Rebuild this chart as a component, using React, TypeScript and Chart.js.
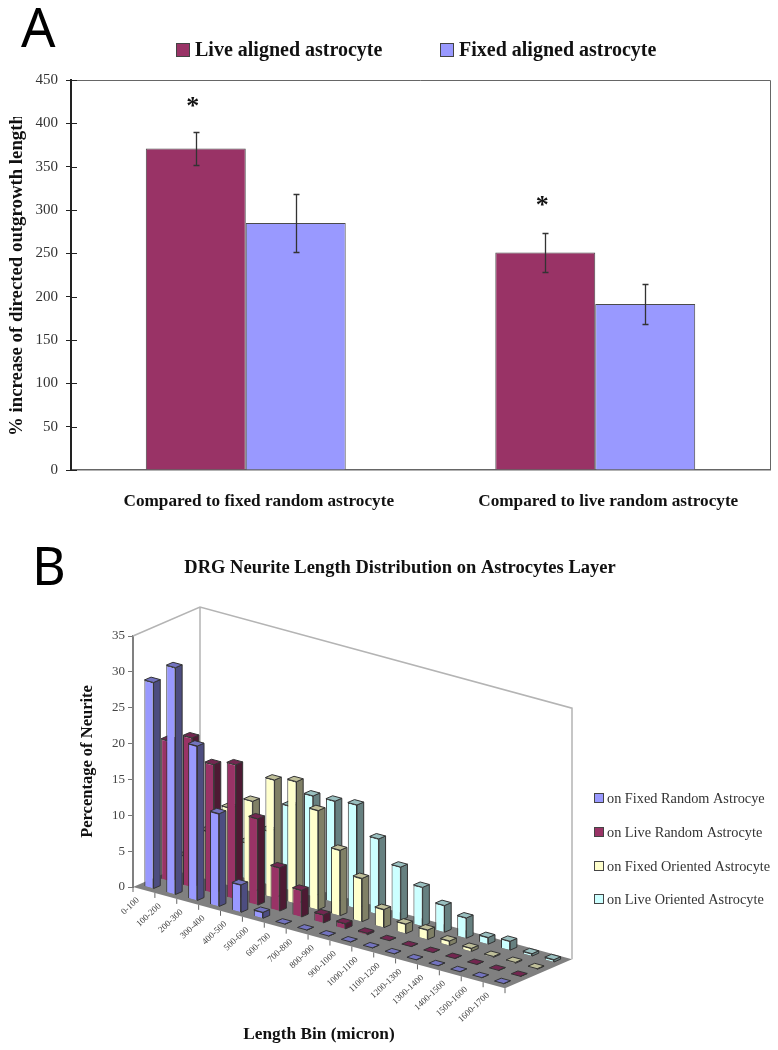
import React, { useEffect, useRef } from "react";
import { Chart, registerables } from "chart.js";

Chart.register(...registerables);

const SERIF = '"Liberation Serif", "Times New Roman", serif';

// Panel A
const groupLabels = ["Compared to fixed random astrocyte", "Compared to live random astrocyte"];
const liveAligned = [371, 251];
const fixedAligned = [285, 191.5];
const liveAlignedErr = [19, 22];
const fixedAlignedErr = [33.5, 23];
const starValues = [426, 311];

// Panel B
const lengthBins = [
  "0-100", "100-200", "200-300", "300-400", "400-500", "500-600", "600-700", "700-800", "800-900",
  "900-1000", "1000-1100", "1100-1200", "1200-1300", "1300-1400", "1400-1500", "1500-1600", "1600-1700",
];
const fixedRandom = [28.8, 31.7, 21.6, 13, 3.9, 0.9, 0.1, 0.1, 0.1, 0.1, 0.1, 0.1, 0.1, 0.1, 0.1, 0.1, 0.1];
const liveRandom = [19.6, 20.9, 18, 18.8, 12.1, 6.1, 3.8, 1.2, 0.8, 0.3, 0.1, 0.1, 0.1, 0.1, 0.1, 0.1, 0.1];
const fixedOriented = [2.5, 6.8, 10.9, 12.7, 16.5, 17.1, 13.9, 9.2, 6.1, 2.6, 1.4, 1.4, 0.7, 0.5, 0.2, 0.2, 0.15];
const liveOriented = [1.5, 3, 5, 7.5, 11.8, 14.1, 14.2, 14.5, 10.6, 7.5, 5.5, 3.8, 2.9, 1.0, 1.3, 0.4, 0.4];

const sideColors = ["#4d4d80", "#4d1a33", "#808066", "#668080"];
const topColors = ["#7373bf", "#732650", "#bfbf99", "#99bfbf"];

function drawLegend(ctx: any, items: any[], font: string, color: string, box: number, gap: number) {
  ctx.save();
  ctx.font = font;
  ctx.textBaseline = "middle";
  ctx.textAlign = "left";
  for (const it of items) {
    ctx.fillStyle = it.fill;
    ctx.fillRect(it.x, it.y - box / 2, box, box);
    ctx.strokeStyle = "#444";
    ctx.lineWidth = 1;
    ctx.strokeRect(it.x + 0.5, it.y - box / 2 + 0.5, box - 1, box - 1);
    ctx.fillStyle = color;
    ctx.fillText(it.label, it.x + box + gap, it.y + 1);
  }
  ctx.restore();
}

function panelLetter(ctx: any, text: string, x: number, y: number, size: number) {
  ctx.save();
  ctx.font = `${size}px "Noto Sans", sans-serif`;
  ctx.fillStyle = "#000";
  ctx.textAlign = "left";
  ctx.textBaseline = "alphabetic";
  ctx.fillText(text, x, y);
  ctx.restore();
}

const panelAPlugin = {
  id: "panelA",
  beforeDatasetsDraw(chart: any) {
    const { ctx, chartArea: a, scales } = chart;
    ctx.save();
    ctx.strokeStyle = "#666";
    ctx.lineWidth = 1;
    ctx.beginPath();
    ctx.moveTo(a.left, a.top + 0.5);
    ctx.lineTo(a.right + 0.5, a.top + 0.5);
    ctx.lineTo(a.right + 0.5, a.bottom);
    ctx.stroke();
    ctx.strokeStyle = "#222";
    ctx.beginPath();
    for (const t of scales.y.ticks) {
      const py = Math.round(scales.y.getPixelForValue(t.value)) + 0.5;
      ctx.moveTo(a.left, py);
      ctx.lineTo(a.left + 6, py);
    }
    ctx.stroke();
    ctx.restore();
  },
  afterDatasetsDraw(chart: any) {
    const { ctx, scales } = chart;
    const errs = [liveAlignedErr, fixedAlignedErr];
    ctx.save();
    ctx.strokeStyle = "#333";
    ctx.lineWidth = 1.3;
    chart.data.datasets.forEach((ds: any, d: number) => {
      chart.getDatasetMeta(d).data.forEach((bar: any, i: number) => {
        const x = Math.round(bar.x) + 0.5;
        const hi = Math.round(scales.y.getPixelForValue(ds.data[i] + errs[d][i])) + 0.5;
        const lo = Math.round(scales.y.getPixelForValue(ds.data[i] - errs[d][i])) + 0.5;
        ctx.beginPath();
        ctx.moveTo(x, hi);
        ctx.lineTo(x, lo);
        ctx.moveTo(x - 3, hi);
        ctx.lineTo(x + 3, hi);
        ctx.moveTo(x - 3, lo);
        ctx.lineTo(x + 3, lo);
        ctx.stroke();
      });
    });
    ctx.restore();
    ctx.save();
    ctx.font = `bold 26px ${SERIF}`;
    ctx.fillStyle = "#111";
    ctx.textAlign = "center";
    ctx.textBaseline = "middle";
    chart.getDatasetMeta(0).data.forEach((bar: any, i: number) => {
      ctx.fillText("*", bar.x - 3, scales.y.getPixelForValue(starValues[i]) + 6);
    });
    ctx.restore();
  },
  afterDraw(chart: any) {
    const { ctx } = chart;
    const ds = chart.data.datasets;
    // the reference's axis title runs out of its frame and is cut off at the top
    ctx.save();
    ctx.fillStyle = "#fff";
    ctx.fillRect(0, 60, 30, 57);
    ctx.restore();
    drawLegend(
      ctx,
      [
        { x: 176, y: 50, label: ds[0].label, fill: ds[0].backgroundColor },
        { x: 440, y: 50, label: ds[1].label, fill: ds[1].backgroundColor },
      ],
      `bold 20px ${SERIF}`,
      "#111",
      14,
      5
    );
    panelLetter(ctx, "A", 21, 47, 54);
  },
};

const SLOPE = 0.272;
const DEPTH_X = 67;
const DEPTH_Y = -29;
const ROWS = 4;
const BAR_DEPTH = 0.4;

function rowOffset(r: number) {
  const f = (r + 0.5 - BAR_DEPTH / 2) / ROWS;
  return [DEPTH_X * f, DEPTH_Y * f];
}

const panelBPlugin = {
  id: "panelB",
  beforeDatasetsDraw(chart: any) {
    const { ctx, chartArea: a, scales } = chart;
    const w = a.right - a.left;
    const rise = SLOPE * w;
    ctx.save();
    ctx.fillStyle = "#808080";
    ctx.beginPath();
    ctx.moveTo(a.left, a.bottom);
    ctx.lineTo(a.right, a.bottom + rise);
    ctx.lineTo(a.right + DEPTH_X, a.bottom + rise + DEPTH_Y);
    ctx.lineTo(a.left + DEPTH_X, a.bottom + DEPTH_Y);
    ctx.closePath();
    ctx.fill();
    ctx.strokeStyle = "#b4b4b4";
    ctx.lineWidth = 1.5;
    ctx.beginPath();
    ctx.moveTo(a.left, a.top);
    ctx.lineTo(a.left + DEPTH_X, a.top + DEPTH_Y);
    ctx.lineTo(a.right + DEPTH_X, a.top + DEPTH_Y + rise);
    ctx.lineTo(a.right + DEPTH_X, a.bottom + DEPTH_Y + rise);
    ctx.moveTo(a.left + DEPTH_X, a.top + DEPTH_Y);
    ctx.lineTo(a.left + DEPTH_X, a.bottom + DEPTH_Y);
    ctx.stroke();

    // skewed category axis: tick marks and labels follow the front edge of the floor
    const xs = scales.x;
    const n = xs.getLabels().length;
    const step = w / n;
    ctx.strokeStyle = "#666";
    ctx.lineWidth = 1;
    ctx.beginPath();
    for (let i = 0; i <= n; i++) {
      const px = a.left + i * step;
      const py = a.bottom + SLOPE * (px - a.left);
      ctx.moveTo(px, py);
      ctx.lineTo(px, py + 5);
    }
    ctx.stroke();
    ctx.font = `9px ${SERIF}`;
    ctx.fillStyle = "#444";
    ctx.textAlign = "right";
    ctx.textBaseline = "middle";
    xs.getLabels().forEach((label: string, i: number) => {
      const px = xs.getPixelForTick(i);
      const py = a.bottom + SLOPE * (px - a.left);
      ctx.save();
      ctx.translate(px - 6, py + 9);
      ctx.rotate((-43 * Math.PI) / 180);
      ctx.fillText(label, 0, 0);
      ctx.restore();
    });
    ctx.restore();
  },
  beforeDatasetDraw(chart: any, args: any) {
    const { ctx, chartArea: a } = chart;
    const [ox, oy] = rowOffset(args.index);
    ctx.save();
    ctx.transform(1, SLOPE, 0, 1, ox, oy - SLOPE * a.left);
  },
  afterDatasetDraw(chart: any, args: any) {
    const { ctx, chartArea: a } = chart;
    ctx.restore();
    const r = args.index;
    const [ox, oy] = rowOffset(r);
    const dx = (DEPTH_X / ROWS) * BAR_DEPTH;
    const dy = (DEPTH_Y / ROWS) * BAR_DEPTH;
    const P = (x: number, y: number) => [x + ox, y + oy + SLOPE * (x - a.left)];
    ctx.save();
    ctx.strokeStyle = "#333";
    ctx.lineWidth = 1;
    ctx.lineJoin = "round";
    args.meta.data.forEach((bar: any) => {
      const l = bar.x - bar.width / 2;
      const rt = bar.x + bar.width / 2;
      const [x1, y1] = P(l, bar.y);
      const [x2, y2] = P(rt, bar.y);
      const [x3, y3] = P(rt, bar.base);
      ctx.fillStyle = sideColors[r];
      ctx.beginPath();
      ctx.moveTo(x2, y2);
      ctx.lineTo(x2 + dx, y2 + dy);
      ctx.lineTo(x3 + dx, y3 + dy);
      ctx.lineTo(x3, y3);
      ctx.closePath();
      ctx.fill();
      ctx.stroke();
      ctx.fillStyle = topColors[r];
      ctx.beginPath();
      ctx.moveTo(x1, y1);
      ctx.lineTo(x2, y2);
      ctx.lineTo(x2 + dx, y2 + dy);
      ctx.lineTo(x1 + dx, y1 + dy);
      ctx.closePath();
      ctx.fill();
      ctx.stroke();
    });
    ctx.restore();
  },
  afterDraw(chart: any) {
    const { ctx } = chart;
    const ds = chart.data.datasets;
    const ys = [268, 302, 336, 369];
    drawLegend(
      ctx,
      ds.map((d: any, i: number) => ({ x: 594, y: ys[i], label: d.label, fill: d.backgroundColor })),
      `14.3px ${SERIF}`,
      "#333",
      10,
      3
    );
    panelLetter(ctx, "B", 32, 55, 52);
  },
};

export default function App() {
  const refA = useRef<HTMLCanvasElement>(null);
  const refB = useRef<HTMLCanvasElement>(null);

  useEffect(() => {
    document.body.style.margin = "0";
    const a = new Chart(refA.current as any, {
      type: "bar",
      data: {
        labels: groupLabels,
        datasets: [
          {
            label: "Live aligned astrocyte",
            data: liveAligned,
            backgroundColor: "#993366",
            borderColor: "#4a4a4a",
            borderWidth: 1,
            barPercentage: 1,
            categoryPercentage: 0.572,
          },
          {
            label: "Fixed aligned astrocyte",
            data: fixedAligned,
            backgroundColor: "#9999ff",
            borderColor: "#4a4a4a",
            borderWidth: 1,
            barPercentage: 1,
            categoryPercentage: 0.572,
          },
        ],
      },
      options: {
        responsive: false,
        animation: false,
        layout: { padding: { top: 80, left: 0, right: 8, bottom: 0 } },
        plugins: { legend: { display: false }, tooltip: { enabled: false } },
        scales: {
          x: {
            afterFit(s: any) {
              s.height = 60;
            },
            grid: { display: false, drawTicks: false },
            border: { color: "#666", width: 1.5 },
            ticks: {
              padding: 21,
              labelOffset: 13,
              maxRotation: 0,
              font: { family: SERIF, size: 17.2, weight: "bold" },
              color: "#111",
            },
          },
          y: {
            min: 0,
            max: 450,
            afterFit(s: any) {
              s.width = 71;
            },
            grid: { drawOnChartArea: false, tickLength: 5, color: "#222" },
            border: { color: "#222", width: 2 },
            ticks: { stepSize: 50, padding: 8, font: { family: SERIF, size: 15 }, color: "#333" },
            title: {
              display: true,
              text: "% increase of directed outgrowth length",
              padding: { top: 5.7, bottom: 0 },
              font: { family: SERIF, size: 18.8, weight: "bold" },
              color: "#111",
            },
          },
        },
      },
      plugins: [panelAPlugin],
    } as any);

    const mk = (label: string, data: number[], fill: string) => ({
      label,
      data,
      backgroundColor: fill,
      borderColor: "#333",
      borderWidth: 1,
      grouped: false,
      barPercentage: 1,
      categoryPercentage: 0.42,
      clip: false,
    });

    const b = new Chart(refB.current as any, {
      type: "bar",
      data: {
        labels: lengthBins,
        datasets: [
          mk("on Fixed Random Astrocye", fixedRandom, "#9999ff"),
          mk("on Live Random Astrocyte", liveRandom, "#993366"),
          mk("on Fixed Oriented Astrocyte", fixedOriented, "#ffffcc"),
          mk("on Live Oriented Astrocyte", liveOriented, "#ccffff"),
        ],
      },
      options: {
        responsive: false,
        animation: false,
        layout: { padding: { left: 22, right: 0, top: 0, bottom: 5 } },
        plugins: {
          legend: { display: false },
          tooltip: { enabled: false },
          title: {
            display: true,
            text: "DRG Neurite Length Distribution on Astrocytes Layer",
            padding: { top: 27, bottom: 56.8 },
            font: { family: SERIF, size: 18.5, weight: "bold" },
            color: "#111",
          },
        },
        scales: {
          x: {
            afterFit(s: any) {
              s.height = 158;
            },
            grid: { display: false },
            border: { display: false },
            ticks: { display: false },
            title: {
              display: true,
              text: "Length Bin (micron)",
              padding: 0,
              font: { family: SERIF, size: 17.3, weight: "bold" },
              color: "#111",
            },
          },
          y: {
            min: 0,
            max: 35,
            afterFit(s: any) {
              s.width = 111;
            },
            grid: { drawOnChartArea: false, tickLength: 5, color: "#777" },
            border: { color: "#808080", width: 2 },
            ticks: { stepSize: 5, padding: 3, font: { family: SERIF, size: 13 }, color: "#444" },
            title: {
              display: true,
              text: "Percentage of Neurite",
              padding: { top: 56, bottom: 0 },
              font: { family: SERIF, size: 16.5, weight: "bold" },
              color: "#111",
            },
          },
          spacer: {
            display: true,
            position: "right",
            afterFit(s: any) {
              s.width = 273;
            },
            grid: { display: false },
            border: { display: false },
            ticks: { display: false },
          },
        },
      },
      plugins: [panelBPlugin],
    } as any);

    return () => {
      a.destroy();
      b.destroy();
    };
  }, []);

  const canvasStyle: React.CSSProperties = { display: "block", filter: "blur(0.5px)" };
  return (
    <div style={{ position: "absolute", left: 0, top: 0, width: 778, height: 1050, background: "#fff" }}>
      <canvas ref={refA} width={778} height={530} style={canvasStyle} />
      <canvas ref={refB} width={778} height={520} style={canvasStyle} />
    </div>
  );
}
